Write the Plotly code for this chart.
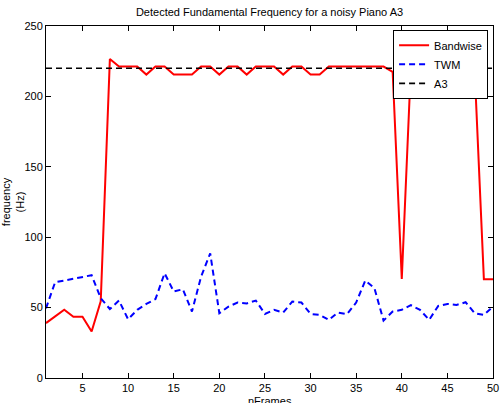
import plotly.graph_objects as go

frames = list(range(1, 51))
bandwise = [39, 43.5, 48.5, 43.5, 43.5, 33, 54.5, 226.5, 221.2, 221.2,
            221.2, 215.5, 221.2, 221.2, 215.5, 215.5, 215.5, 221.2, 221.2, 215.5,
            221.2, 221.2, 215.5, 221.2, 221.2, 221.2, 215.5, 221.2, 221.2, 215.5,
            215.5, 221.2, 221.2, 221.2, 221.2, 221.2, 221.2, 221.2, 217.5, 70.3,
            221.2, 216.5, 221.2, 221.2, 221.2, 221.2, 221.2, 217, 70.2, 70.2]
twm = [49.5, 68, 69.2, 70.4, 71.4, 73, 56.7, 49, 55, 41.7,
       48.4, 52.6, 56, 74.4, 61.4, 63, 47.2, 72, 88.5, 46,
       50.7, 53.6, 53, 55, 45.5, 48.4, 46.5, 54.3, 53.6, 45.5,
       44.8, 41.3, 46.5, 45.3, 53.6, 69.2, 63.8, 40.8, 47.2, 48.4,
       51.7, 48.4, 41.3, 51.2, 52.6, 51.9, 53.8, 46, 44.8, 50.7]
a3_x = [1, 50]
a3_y = [220, 220]

x_ticks = [5, 10, 15, 20, 25, 30, 35, 40, 45, 50]
y_ticks = [0, 50, 100, 150, 200, 250]

FONT = "Liberation Sans, Arial, Helvetica, sans-serif"

fig = go.Figure()
fig.add_trace(go.Scatter(x=frames, y=bandwise, mode="lines", name="Bandwise",
                         line=dict(color="#ff0000", width=2)))
fig.add_trace(go.Scatter(x=frames, y=twm, mode="lines", name="TWM",
                         line=dict(color="#0000ff", width=2, dash="6px,4px")))
fig.add_trace(go.Scatter(x=a3_x, y=a3_y, mode="lines", name="A3",
                         line=dict(color="#000000", width=1.7, dash="6px,4px")))

fig.update_layout(
    width=500, height=403,
    margin=dict(l=46, r=7, t=26, b=25, autoexpand=False),
    paper_bgcolor="white", plot_bgcolor="white",
    font=dict(family=FONT, size=11, color="black"),
    title=dict(text="Detected Fundamental Frequency for a noisy Piano A3",
               x=0.5, xref="paper", y=1 - 12 / 403, yref="container",
               xanchor="center", yanchor="middle",
               font=dict(family=FONT, size=11, color="black")),
    showlegend=True,
    legend=dict(x=0.989, y=0.989, xanchor="right", yanchor="top",
                bgcolor="white", bordercolor="black", borderwidth=1,
                font=dict(family=FONT, size=11), tracegroupgap=0,
                itemwidth=30),
    xaxis=dict(range=[1, 50], tickvals=x_ticks, ticks="inside", ticklen=5,
               showline=True, linecolor="black", linewidth=1, mirror="ticks",
               showgrid=False, zeroline=False, tickcolor="black",
               automargin=False),
    yaxis=dict(range=[0, 250], tickvals=y_ticks, ticks="inside", ticklen=5,
               showline=True, linecolor="black", linewidth=1, mirror="ticks",
               showgrid=False, zeroline=False, tickcolor="black",
               automargin=False,
               title=dict(text="frequency<br>(Hz)", standoff=4,
                          font=dict(family=FONT, size=11))),
    annotations=[dict(text="nFrames", x=0.5, y=0, xref="paper", yref="paper",
                      xanchor="center", yanchor="top", yshift=-15,
                      showarrow=False, font=dict(family=FONT, size=11))],
)

# remove the browser's default 8px body margin so the figure fills the window
fig.write_html("out.html",
               config={"displayModeBar": False},
               post_script="document.body.style.margin='0';"
                           "document.body.style.overflow='hidden';")
